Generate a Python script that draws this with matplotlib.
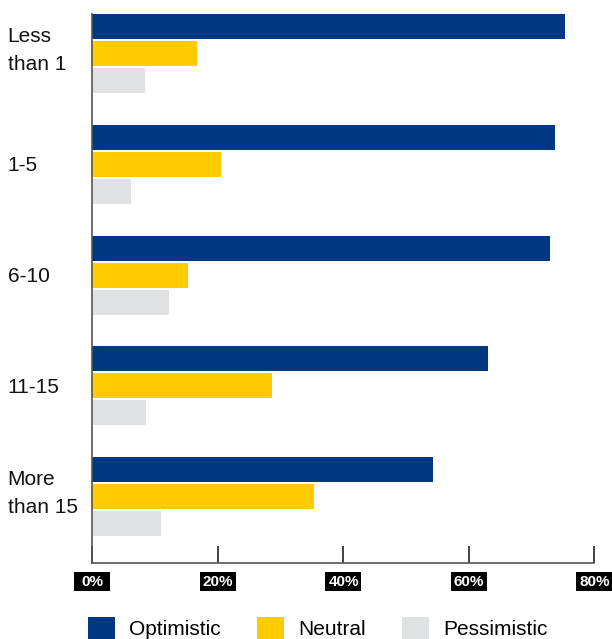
import matplotlib.pyplot as plt
import numpy as np
from matplotlib.patches import Rectangle

plt.rcParams["font.family"] = ["Liberation Sans", "DejaVu Sans"]

categories = ["Less\nthan 1", "1-5", "6-10", "11-15", "More\nthan 15"]
optimistic = [75.4, 73.8, 73.0, 63.1, 54.3]
neutral = [16.7, 20.6, 15.3, 28.7, 35.4]
pessimistic = [8.4, 6.2, 12.3, 8.6, 11.0]
series_names = ["Optimistic", "Neutral", "Pessimistic"]
x_ticks = [0, 20, 40, 60, 80]
x_tick_labels = ["0%", "20%", "40%", "60%", "80%"]

colors = ["#003781", "#FFCC00", "#E0E1E3"]

fig = plt.figure(figsize=(6.12, 6.39), dpi=100)
ax = fig.add_axes([92 / 612, 76 / 639, 502 / 612, 549 / 639])

y = np.arange(len(categories))
bar_h = 0.226
step = 0.244
for offset, values, color, name in zip((-step, 0, step), (optimistic, neutral, pessimistic), colors, series_names):
    ax.barh(y + offset, values, height=bar_h, color=color, label=name, linewidth=0)

ax.set_xlim(0, 80)
ax.set_ylim(4.6, -0.357)

for side in ("top", "right"):
    ax.spines[side].set_visible(False)
for side in ("left", "bottom"):
    ax.spines[side].set_color("#555555")
    ax.spines[side].set_linewidth(1.2)

ax.set_yticks([])
for yi, cat in zip(y, categories):
    shift = -0.025 if "\n" in cat else 0.015
    ax.text(-0.168, yi + shift, cat, transform=ax.get_yaxis_transform(), ha="left", va="center",
            fontsize=15, linespacing=1.6, color="#111111")

# tick marks point up into the plot, labels sit in fixed-size black boxes
ax.set_xticks(x_ticks)
ax.tick_params(axis="x", direction="in", length=12, width=1.2, color="#222222", labelbottom=False)
box_w = 36 / 502 * 80
box_h = 19 / 549
for xv, lab in zip(x_ticks, x_tick_labels):
    ax.add_patch(Rectangle((xv - box_w / 2, -0.0337 - box_h / 2), box_w, box_h,
                           transform=ax.get_xaxis_transform(), facecolor="black",
                           edgecolor="none", clip_on=False))
    ax.text(xv + 0.1, -0.0345, lab, transform=ax.get_xaxis_transform(), ha="center", va="center",
            fontsize=11, fontweight="bold", color="white")

handles, labels = ax.get_legend_handles_labels()
fig.legend(handles, labels, loc="center left", bbox_to_anchor=(88 / 612, 11 / 639), ncol=3,
           frameon=False, fontsize=15, handlelength=1.3, handleheight=1.25,
           handletextpad=0.67, columnspacing=1.75, borderpad=0, borderaxespad=0)

fig.savefig("out.png", dpi=100)
